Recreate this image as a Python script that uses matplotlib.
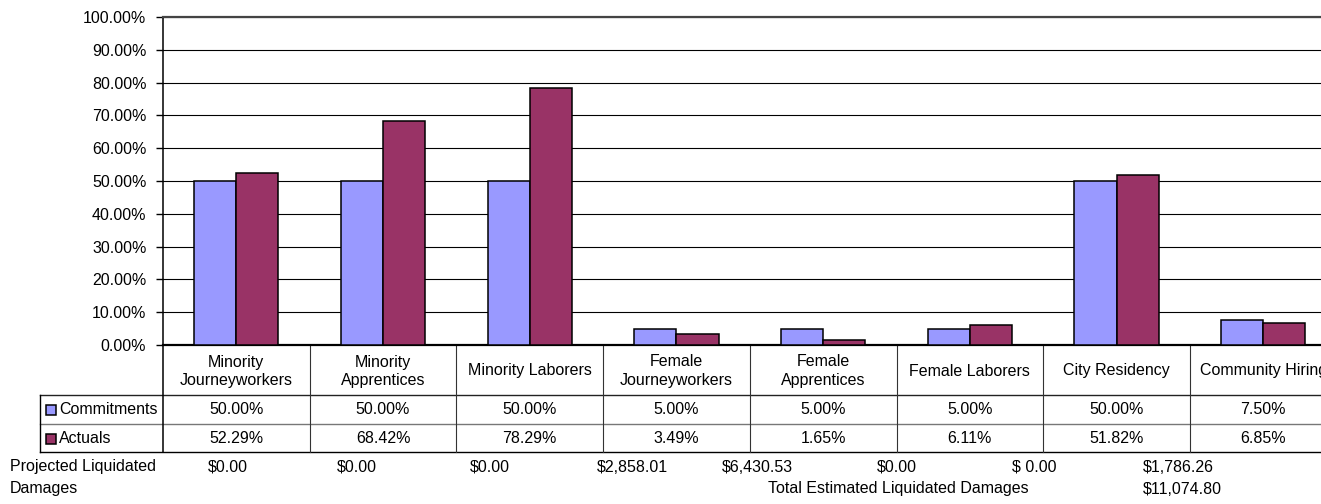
import matplotlib
matplotlib.use("Agg")
import matplotlib.pyplot as plt
from matplotlib.transforms import Affine2D, blended_transform_factory
from matplotlib.patches import Rectangle

plt.rcParams['font.family'] = ['Liberation Sans', 'DejaVu Sans']

categories = ["Minority\nJourneyworkers", "Minority\nApprentices", "Minority Laborers",
              "Female\nJourneyworkers", "Female\nApprentices", "Female Laborers",
              "City Residency", "Community Hiring"]
commitments = [50.00, 50.00, 50.00, 5.00, 5.00, 5.00, 50.00, 7.50]
actuals = [52.29, 68.42, 78.29, 3.49, 1.65, 6.11, 51.82, 6.85]
damages = ["$0.00", "$0.00", "$0.00", "$2,858.01", "$6,430.53", "$0.00", "$ 0.00", "$1,786.26"]
total_label = "Total Estimated Liquidated Damages"
total_value = "$11,074.80"
series_names = ["Commitments", "Actuals"]
yticks = [0, 10, 20, 30, 40, 50, 60, 70, 80, 90, 100]

# layout (pixels)
W, H = 1321, 504
damage_x = [208, 337, 470, 597, 722, 877, 1012, 1143]
c_blue = "#9999FF"
c_red = "#993366"
FS = 11.5

fig = plt.figure(figsize=(W / 100, H / 100), dpi=100)
ax_left, ax_top, ax_bottom = 163, 17, 345
cat_w = 146.7
n = len(categories)
ax = fig.add_axes([ax_left / W, 1 - ax_bottom / H, cat_w * n / W, (ax_bottom - ax_top) / H])

px = Affine2D().scale(1 / W, -1 / H).translate(0, 1) + fig.transFigure
bx = blended_transform_factory(ax.transData, px)

xs = [i + 0.5 for i in range(n)]
bw = 0.287
ax.bar([x - bw / 2 for x in xs], commitments, width=bw, color=c_blue, edgecolor="black", linewidth=1.1, zorder=3)
ax.bar([x + bw / 2 for x in xs], actuals, width=bw, color=c_red, edgecolor="black", linewidth=1.1, zorder=3)

ax.set_xlim(0, n)
ax.set_ylim(0, 100)
ax.set_yticks(yticks)
ax.set_yticklabels([f"{v:.2f}%" for v in yticks], fontsize=FS)
ax.tick_params(axis='y', direction='out', length=5, width=1, pad=7, colors='black')
ax.set_xticks([])
ax.yaxis.grid(True, color='black', linewidth=0.8, zorder=0)
ax.set_axisbelow(True)
ax.spines['right'].set_visible(False)
ax.spines['top'].set_color('#444444')
ax.spines['top'].set_linewidth(1.6)
ax.spines['left'].set_linewidth(1.1)
ax.spines['bottom'].set_linewidth(1.6)

# table
y_hdr_bot, y_mid, y_bot = 395, 424, 452
tab_left = 40
right_px = W + 20
ax.plot([tab_left, right_px], [y_hdr_bot, y_hdr_bot], color='#222222', lw=1.0, transform=px, clip_on=False)
ax.plot([tab_left, right_px], [y_mid, y_mid], color='#777777', lw=1.0, transform=px, clip_on=False)
ax.plot([tab_left, right_px], [y_bot, y_bot], color='black', lw=1.0, transform=px, clip_on=False)
ax.plot([tab_left, tab_left], [y_hdr_bot, y_bot], color='black', lw=1.0, transform=px, clip_on=False)
ax.plot([0, 0], [ax_bottom, y_bot], color='black', lw=1.1, transform=bx, clip_on=False)
for i in range(1, n):
    ax.plot([i, i], [ax_bottom, y_bot], color='#333333', lw=0.8, transform=bx, clip_on=False)

for i, lab in enumerate(categories):
    fig.text(xs[i], 371, lab, transform=bx, ha='center', va='center', fontsize=FS, linespacing=1.25)
    fig.text(xs[i], 410, f"{commitments[i]:.2f}%", transform=bx, ha='center', va='center', fontsize=FS)
    fig.text(xs[i], 438.5, f"{actuals[i]:.2f}%", transform=bx, ha='center', va='center', fontsize=FS)

for (yc, name, col) in [(410, series_names[0], c_blue), (438.5, series_names[1], c_red)]:
    fig.add_artist(Rectangle((46, yc - 5), 10, 10, transform=px, facecolor=col, edgecolor='black', lw=1.1))
    fig.text(59, yc, name, transform=px, ha='left', va='center', fontsize=FS)

fig.text(10, 467, "Projected Liquidated", transform=px, ha='left', va='center', fontsize=FS)
fig.text(10, 489, "Damages", transform=px, ha='left', va='center', fontsize=FS)
for xpos, d in zip(damage_x, damages):
    fig.text(xpos, 467, d, transform=px, ha='left', va='center', fontsize=FS)
fig.text(768, 489, total_label, transform=px, ha='left', va='center', fontsize=FS)
fig.text(1143, 489, total_value, transform=px, ha='left', va='center', fontsize=FS)

fig.savefig("out.png", dpi=100)
